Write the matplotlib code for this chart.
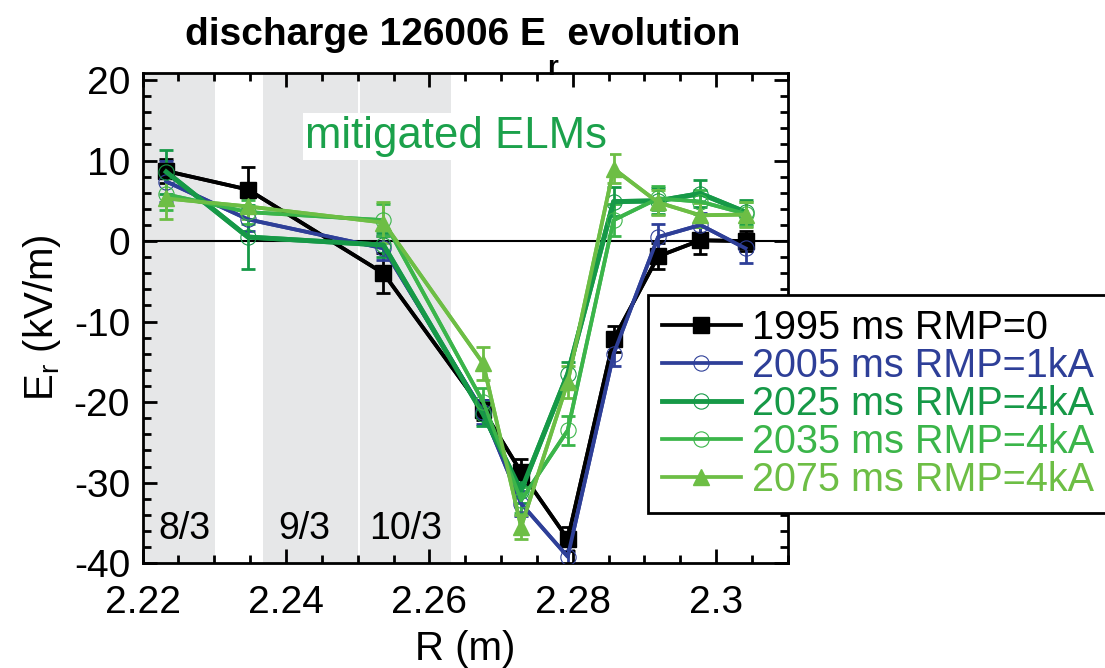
import numpy as np
import matplotlib
matplotlib.use('Agg')
import matplotlib.pyplot as plt
from matplotlib.ticker import MultipleLocator

plt.rcParams['font.family'] = ['Liberation Sans', 'DejaVu Sans']
plt.rcParams['axes.unicode_minus'] = False
plt.rcParams['mathtext.fontset'] = 'custom'
plt.rcParams['mathtext.rm'] = 'Liberation Sans'
plt.rcParams['mathtext.it'] = 'Liberation Sans'
plt.rcParams['mathtext.bf'] = 'Liberation Sans:bold'

# radial positions (m)
R = [2.2233, 2.2347, 2.2536, 2.2675, 2.2728, 2.2793, 2.2857, 2.2919, 2.2978, 2.3041]

# Er (kV/m) and error bars for each time slice
er_1995 = [8.7, 6.4, -4.0, -21.0, -28.7, -37.0, -12.2, -1.9, 0.1, 0.0]
err_1995 = [1.5, 2.8, 2.5, 1.2, 1.6, 1.5, 1.6, 1.6, 1.7, 1.2]
er_2005 = [7.4, 2.7, -0.9, -21.2, -32.6, -39.2, -14.0, 0.5, 2.0, -0.9]
err_2005 = [2.6, 1.5, 1.5, 1.5, 1.5, 1.5, 1.5, 1.6, 1.5, 1.8]
er_2025 = [8.6, 0.5, -0.5, -21.5, -31.0, -16.5, 4.9, 5.0, 5.9, 3.6]
err_2025 = [2.7, 4.0, 1.5, 1.5, 1.5, 1.5, 1.8, 1.6, 1.7, 1.5]
er_2035 = [5.8, 3.6, 2.6, -20.0, -32.2, -23.5, 2.6, 5.3, 4.9, 3.4]
err_2035 = [2.0, 1.5, 2.0, 1.8, 1.6, 1.8, 2.0, 1.5, 1.5, 1.5]
er_2075 = [5.3, 4.3, 2.3, -15.2, -35.5, -17.5, 9.0, 4.8, 3.2, 3.3]
err_2075 = [2.5, 1.5, 2.6, 2.0, 1.5, 2.0, 1.8, 1.6, 1.5, 1.6]

labels = ['1995 ms RMP=0', '2005 ms RMP=1kA', '2025 ms RMP=4kA',
          '2035 ms RMP=4kA', '2075 ms RMP=4kA']
colors = ['black', '#2e3f98', '#169947', '#3bb54a', '#6dbe45']
markers = ['s', 'o', 'o', 'o', '^']
widths = [2.7, 2.7, 3.5, 2.7, 2.7]
series = [(er_1995, err_1995), (er_2005, err_2005), (er_2025, err_2025),
          (er_2035, err_2035), (er_2075, err_2075)]

# rational surface bands
bands = [(2.22, 2.2301), (2.2368, 2.2500), (2.2503, 2.2630)]
band_labels = ['8/3', '9/3', '10/3']
band_label_x = [2.2258, 2.2425, 2.2567]

fig = plt.figure(figsize=(11.05, 6.68), dpi=100)
ax = fig.add_axes([0.129, 0.157, 0.584, 0.734])

for (a, b) in bands:
    ax.axvspan(a, b, color='#e6e7e8', lw=0, zorder=0)
for x, t in zip(band_label_x, band_labels):
    ax.text(x, -35.8, t, fontsize=27, ha='center', va='center', zorder=1)

ax.axhline(0, color='black', lw=1.5, zorder=1)

handles = []
for (y, e), lab, c, m, w in zip(series, labels, colors, markers, widths):
    ax.errorbar(R, y, yerr=e, color=c, lw=w, elinewidth=2, capsize=5,
                capthick=2, marker='None', zorder=2)
    if m == 'o':
        ln, = ax.plot(R, y, color=c, lw=w, marker='o', ms=11, mfc='none',
                      mec=c, mew=0.8, zorder=3, label=lab)
    else:
        ln, = ax.plot(R, y, color=c, lw=w, marker=m, ms=12, mfc=c, mec=c,
                      zorder=3, label=lab)
    handles.append(ln)

ax.text(2.2427, 13.0, 'mitigated ELMs', fontsize=31.5, color='#1ba14b',
        ha='left', va='center', zorder=4,
        bbox=dict(facecolor='white', edgecolor='none', pad=2))

ax.set_xlim(2.22, 2.31)
ax.set_ylim(-40, 20.9)
ax.xaxis.set_minor_locator(MultipleLocator(0.005))
ax.yaxis.set_major_locator(MultipleLocator(10))
ax.yaxis.set_minor_locator(MultipleLocator(2))
ax.set_xticks([2.22, 2.24, 2.26, 2.28, 2.3])
ax.set_xticklabels(['2.22', '2.24', '2.26', '2.28', '2.3'])
ax.tick_params(which='both', direction='in', top=True, right=True,
               labelsize=28, width=2)
ax.tick_params(which='major', length=10)
ax.tick_params(which='minor', length=6)
ax.tick_params(axis='x', which='major', pad=16)
ax.tick_params(axis='y', which='major', pad=9)
for s in ax.spines.values():
    s.set_linewidth(2)

ax.set_xlabel('R (m)', fontsize=29, labelpad=6)
ax.set_ylabel('E$_\\mathrm{r}$ (kV/m)', fontsize=29, labelpad=8)

fig.text(0.419, 0.933, 'discharge 126006 E  evolution', fontsize=28,
         fontweight='bold', family=['Liberation Sans Narrow', 'Liberation Sans'],
         ha='center', va='baseline')
fig.text(0.50, 0.888, 'r', fontsize=20, fontweight='bold',
         family=['Liberation Sans Narrow', 'Liberation Sans'],
         ha='center', va='baseline')

leg = fig.legend(handles=handles, loc='upper left',
                 bbox_to_anchor=(648 / 1105, 1 - 295 / 668), borderaxespad=0,
                 fontsize=28.5, handlelength=2.0, handletextpad=0.28,
                 labelspacing=0.0, fancybox=False, framealpha=1,
                 borderpad=0.35)
leg.get_frame().set_edgecolor('black')
leg.get_frame().set_linewidth(2)
for t, c in zip(leg.get_texts(), colors):
    t.set_color(c)

fig.savefig('out.png', dpi=100)
